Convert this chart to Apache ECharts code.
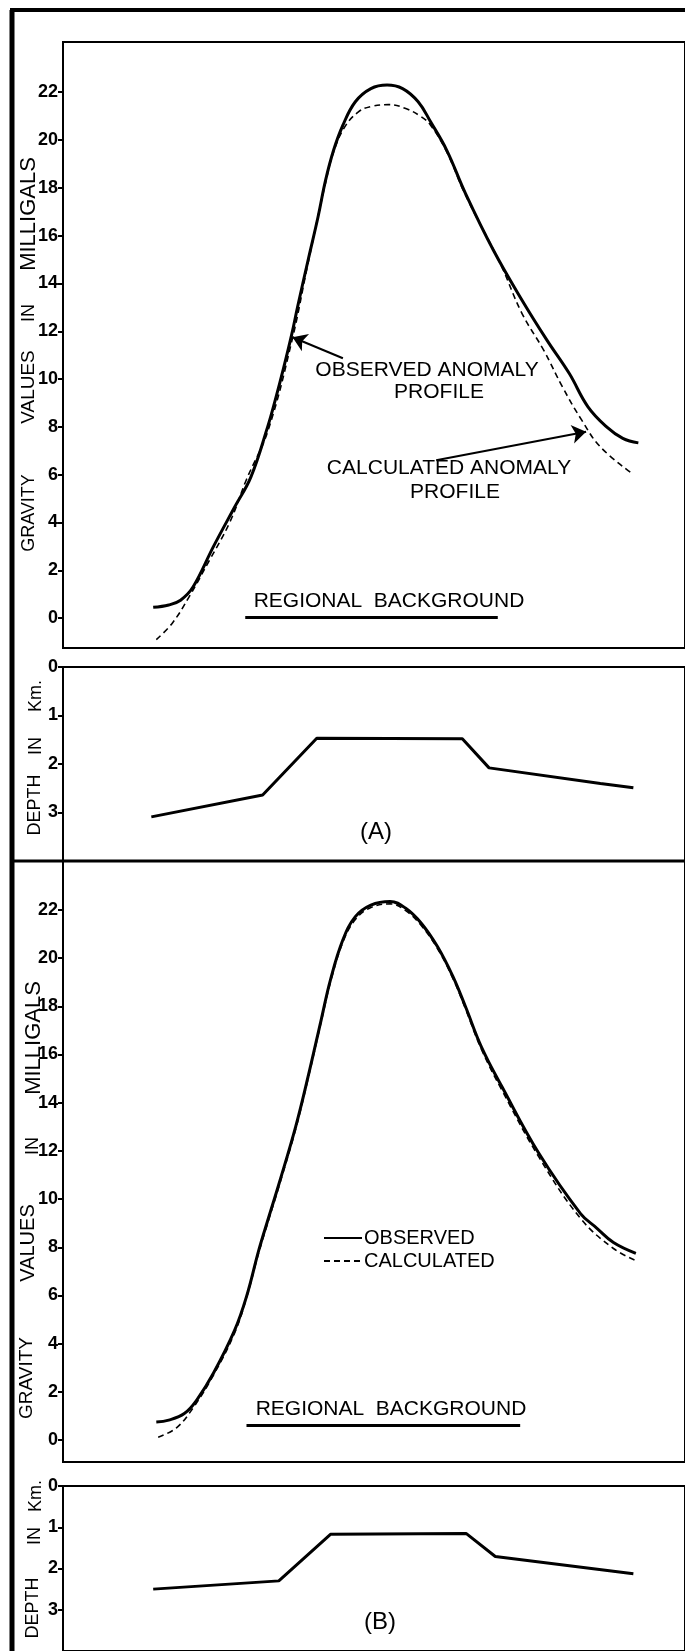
<!DOCTYPE html>
<html>
<head>
<meta charset="utf-8">
<script src="https://cdn.jsdelivr.net/npm/echarts@6/dist/echarts.min.js"></script>
<style>
  html, body { margin: 0; padding: 0; background: #fff; }
  #main { width: 685px; height: 1651px; }
</style>
</head>
<body>
<div id="main"></div>
<script>
// tick labels
var gravTicks = [0, 2, 4, 6, 8, 10, 12, 14, 16, 18, 20, 22];
var depthTicks = [0, 1, 2, 3];

// panel A: [distance, milligals]
var obsA = [[14.5,0.45],[17.0,0.55],[18.9,0.75],[20.9,1.3],[24.2,3.0],[27.6,4.65],[30.2,5.9],[32.9,8.0],[34.1,9.1],[35.5,10.5],[36.8,11.9],[37.7,13.0],[39.4,14.97],[41.0,16.78],[42.2,18.3],[43.5,19.57],[45.0,20.62],[47.0,21.6],[49.5,22.15],[52.1,22.3],[54.6,22.15],[57.1,21.6],[59.1,20.76],[61.7,19.57],[64.7,17.77],[69.2,15.39],[73.8,13.3],[77.8,11.63],[81.4,10.23],[84.4,8.84],[87.4,8.0],[90.0,7.52],[92.5,7.33]];
var calcA = [[15.0,-0.9],[17.6,-0.2],[20.3,0.9],[23.5,2.4],[26.8,4.0],[29.5,5.8],[32.9,7.8],[36.8,11.6],[39.4,14.85],[42.2,18.2],[43.5,19.5],[45.3,20.55],[47.5,21.18],[49.5,21.4],[52.3,21.48],[55.1,21.32],[57.6,20.97],[59.1,20.62],[61.7,19.5],[64.7,17.7],[70.3,14.83],[73.8,12.74],[77.3,11.2],[80.3,9.67],[83.4,8.28],[86.4,7.16],[91.5,6.05]];
// panel A: [distance, depth km]
var depthA = [[14.2,3.09],[32.1,2.64],[40.8,1.47],[64.2,1.48],[68.5,2.08],[86.4,2.4],[91.7,2.49]];

// panel B
var obsB = [[15.0,0.75],[17.0,0.83],[19.5,1.1],[21.5,1.66],[24.2,2.78],[27.6,4.56],[29.5,5.95],[31.5,7.9],[32.9,9.1],[34.8,10.7],[37.4,13.0],[39.4,15.08],[41.5,17.43],[43.0,19.1],[45.0,20.76],[47.0,21.72],[49.5,22.2],[52.6,22.35],[55.1,22.07],[57.6,21.45],[60.2,20.48],[62.7,19.23],[64.7,17.99],[67.3,16.3],[70.6,14.65],[76.5,11.9],[83.2,9.4],[85.8,8.8],[88.5,8.2],[92.1,7.75]];
var calcB = [[15.3,0.12],[18.2,0.5],[20.9,1.33],[24.2,2.7],[27.6,4.45],[29.5,5.9],[31.5,7.8],[34.8,10.6],[37.4,12.9],[39.4,15.0],[41.5,17.35],[43.0,19.0],[45.0,20.66],[47.0,21.6],[49.5,22.1],[52.6,22.25],[55.1,21.97],[57.6,21.35],[60.2,20.4],[62.7,19.15],[64.7,17.9],[67.3,16.2],[70.6,14.5],[76.5,11.75],[83.2,9.2],[88.5,7.95],[92.1,7.45]];
var depthB = [[14.5,2.5],[34.7,2.3],[43.0,1.17],[64.8,1.15],[69.5,1.71],[91.7,2.13]];

// annotation lines (data coords)
var arrowObsA = [[45.0,10.87],[36.9,11.75]];
var arrowCalcA = [[60.0,6.6],[84.1,7.8]];
var regionalA = [[29.3,0.05],[69.9,0.05]];
var regionalB = [[29.5,0.6],[73.5,0.6]];

var FONT = '"Liberation Sans", Arial, sans-serif';

function gridBox(top, height) {
    return { left: 63, top: top, width: 660, height: height, show: true,
             borderColor: '#000', borderWidth: 2, backgroundColor: 'transparent' };
}
function xAx(i) {
    return { type: 'value', gridIndex: i, min: 0, max: 100, show: false };
}
function yAx(i, min, max, ticks, inverse) {
    return {
        type: 'value', gridIndex: i, min: min, max: max, inverse: !!inverse,
        axisLine: { show: false },
        splitLine: { show: false },
        axisTick: { show: true, inside: false, length: 5, customValues: ticks,
                    lineStyle: { color: '#000', width: 2 } },
        axisLabel: { customValues: ticks, color: '#000', fontSize: 18, fontWeight: 'bold',
                     fontFamily: FONT, margin: 5 }
    };
}
function seg(p, q) { return [{ coord: p }, { coord: q }]; }

function vtext(t, x, y, size) {
    return { type: 'text', x: x, y: y, rotation: Math.PI / 2,
             style: { text: t, fill: '#000', fontSize: size || 18, fontFamily: FONT,
                      textAlign: 'center', textVerticalAlign: 'middle' } };
}
function htext(t, x, y, size) {
    return { type: 'text', x: x, y: y,
             style: { text: t, fill: '#000', fontSize: size || 21, fontFamily: FONT,
                      textAlign: 'center', textVerticalAlign: 'middle' } };
}

var option = {
    animation: false,
    backgroundColor: '#fff',
    color: ['#000'],
    grid: [gridBox(42, 606), gridBox(667, 194), gridBox(861, 601), gridBox(1486, 192)],
    xAxis: [xAx(0), xAx(1), xAx(2), xAx(3)],
    yAxis: [
        yAx(0, -1.25, 24.1, gravTicks),
        yAx(1, 0, 4, depthTicks, true),
        yAx(2, -0.91, 24.03, gravTicks),
        yAx(3, 0, 4, depthTicks, true)
    ],
    legend: {
        data: ['OBSERVED', 'CALCULATED'], orient: 'vertical', left: 318, top: 1223,
        itemWidth: 38, itemHeight: 10, itemGap: 3, selectedMode: false,
        itemStyle: { opacity: 0 },
        textStyle: { color: '#000', fontSize: 20, fontFamily: FONT, padding: [0, 0, 0, -3] }
    },
    series: [
        { name: 'A observed', type: 'line', xAxisIndex: 0, yAxisIndex: 0, data: obsA,
          smooth: 0.4, symbol: 'none', lineStyle: { color: '#000', width: 3 },
          markLine: { silent: true, symbol: ['none', 'arrow'], symbolSize: 14,
                      label: { show: false }, itemStyle: { color: '#000' },
                      lineStyle: { color: '#000', width: 2, type: 'solid' },
                      data: [seg(arrowObsA[0], arrowObsA[1]), seg(arrowCalcA[0], arrowCalcA[1])] } },
        { name: 'A calculated', type: 'line', xAxisIndex: 0, yAxisIndex: 0, data: calcA,
          smooth: 0.4, symbol: 'none', lineStyle: { color: '#000', width: 1.6, type: [6, 4] },
          markLine: { silent: true, symbol: 'none', label: { show: false },
                      lineStyle: { color: '#000', width: 3, type: 'solid' },
                      data: [seg(regionalA[0], regionalA[1])] } },
        { name: 'A depth', type: 'line', xAxisIndex: 1, yAxisIndex: 1, data: depthA,
          symbol: 'none', lineStyle: { color: '#000', width: 3 } },
        { name: 'OBSERVED', type: 'line', xAxisIndex: 2, yAxisIndex: 2, data: obsB,
          smooth: 0.4, symbol: 'none', itemStyle: { color: '#000' },
          lineStyle: { color: '#000', width: 3 } },
        { name: 'CALCULATED', type: 'line', xAxisIndex: 2, yAxisIndex: 2, data: calcB,
          smooth: 0.4, symbol: 'none', itemStyle: { color: '#000' },
          lineStyle: { color: '#000', width: 1.6, type: [6, 4] },
          markLine: { silent: true, symbol: 'none', label: { show: false },
                      lineStyle: { color: '#000', width: 3, type: 'solid' },
                      data: [seg(regionalB[0], regionalB[1])] } },
        { name: 'B depth', type: 'line', xAxisIndex: 3, yAxisIndex: 3, data: depthB,
          symbol: 'none', lineStyle: { color: '#000', width: 3 } }
    ],
    graphic: [
        // outer frame
        { type: 'line', shape: { x1: 12, y1: 10, x2: 12, y2: 1660 }, style: { stroke: '#000', lineWidth: 5 } },
        { type: 'line', shape: { x1: 10, y1: 10, x2: 700, y2: 10 }, style: { stroke: '#000', lineWidth: 4 } },
        { type: 'line', shape: { x1: 10, y1: 861, x2: 700, y2: 861 }, style: { stroke: '#000', lineWidth: 3 } },
        // axis titles
        vtext('MILLIGALS', 29, 214, 22), vtext('IN', 29, 313), vtext('VALUES', 29, 387, 19), vtext('GRAVITY', 29, 513),
        vtext('Km.', 36, 696), vtext('IN', 36, 746), vtext('DEPTH', 35, 805),
        vtext('MILLIGALS', 34, 1038, 22), vtext('IN', 33, 1146), vtext('VALUES', 28, 1243, 20), vtext('GRAVITY', 27, 1378, 19),
        vtext('Km.', 36, 1496), vtext('IN', 35, 1536), vtext('DEPTH', 33, 1608),
        // panel annotations
        htext('OBSERVED ANOMALY', 427, 370), htext('PROFILE', 439, 392),
        htext('CALCULATED ANOMALY', 449, 468), htext('PROFILE', 455, 492),
        htext('REGIONAL  BACKGROUND', 389, 601),
        htext('REGIONAL  BACKGROUND', 391, 1409),
        htext('(A)', 376, 832, 24), htext('(B)', 380, 1622, 24)
    ]
};

echarts.init(document.getElementById('main')).setOption(option);
</script>
</body>
</html>
